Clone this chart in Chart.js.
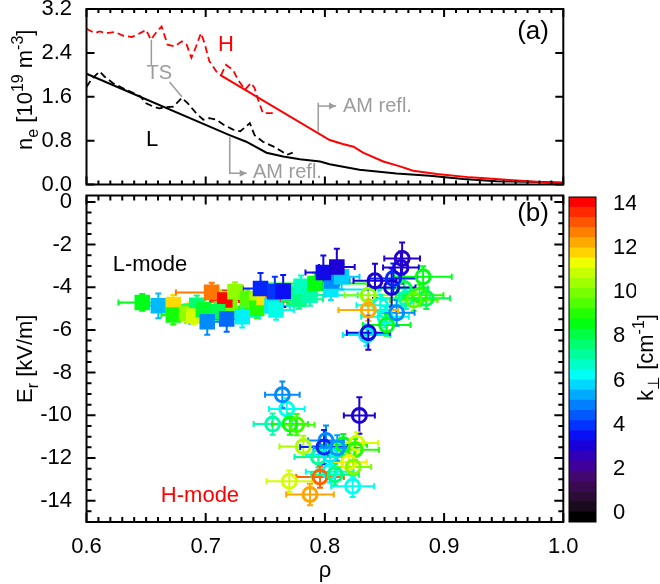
<!DOCTYPE html>
<html>
<head>
<meta charset="utf-8">
<script src="https://cdn.jsdelivr.net/npm/chart.js@4.4.0/dist/chart.umd.min.js"></script>
<style>
  html, body { margin: 0; padding: 0; background: #fff; }
  #wrap { position: relative; width: 660px; height: 584px; overflow: hidden; }
  canvas { position: absolute; left: 0; }
</style>
</head>
<body>
<div id="wrap">
  <canvas id="cA" width="660" height="250" style="top:-30px"></canvas>
  <canvas id="cB" width="660" height="584" style="top:0"></canvas>
  <canvas id="cC" width="660" height="584" style="top:0"></canvas>
</div>
<script>
// ---------- Panel (a): density profiles ----------
const tsH_rho = [0.600,0.607,0.611,0.617,0.624,0.631,0.638,0.645,0.650,0.654,0.659,0.663,0.668,0.674,0.680,0.684,0.688,0.692,0.696,0.699,0.703,0.709,0.713,0.717,0.723,0.727,0.733,0.738,0.741,0.744,0.748,0.757];
const tsH_ne  = [2.84,2.76,2.79,2.76,2.78,2.71,2.69,2.76,2.82,2.64,2.79,2.88,2.55,2.52,2.61,2.55,2.31,2.52,2.76,2.58,2.25,2.06,2.00,2.18,2.09,1.91,1.73,1.85,1.76,1.54,1.30,1.30];
const amH_rho = [0.712,0.804,0.815,0.824,0.832,0.849,0.863,0.874,0.894,0.922,0.955,0.983,1.000];
const amH_ne  = [2.00,0.81,0.74,0.69,0.58,0.42,0.33,0.25,0.19,0.13,0.08,0.04,0.03];
const tsL_rho = [0.600,0.604,0.608,0.611,0.615,0.622,0.633,0.645,0.650,0.656,0.661,0.667,0.673,0.680,0.685,0.692,0.698,0.703,0.709,0.715,0.723,0.729,0.734,0.737,0.741,0.748,0.757,0.764,0.768,0.773];
const tsL_ne  = [1.78,1.91,2.00,2.06,1.97,1.85,1.73,1.61,1.48,1.42,1.39,1.41,1.42,1.58,1.48,1.30,1.18,1.21,1.18,1.09,1.00,0.97,1.06,1.12,0.90,0.78,0.69,0.60,0.54,0.58];
const amL_rho = [0.600,0.720,0.734,0.751,0.765,0.779,0.796,0.804,0.821,0.829,0.860,0.888,0.916,0.944,0.972,1.000];
const amL_ne  = [2.02,0.90,0.78,0.58,0.51,0.46,0.42,0.37,0.30,0.27,0.20,0.16,0.10,0.06,0.05,0.03];
const neTicks = [0, 0.8, 1.6, 2.4, 3.2];

// ---------- Panel (b): radial electric field ----------
// filled squares
const sq_rho  = [0.6468,0.6603,0.6728,0.6728,0.6840,0.6925,0.6900,0.6980,0.7200,0.7050,0.7160,0.7100,0.7013,0.7176,0.7246,0.7350,0.7428,0.7428,0.7490,0.7567,0.7307,0.7556,0.7590,0.7700,0.7783,0.7800,0.7875,0.8050,0.7917,0.8057,0.8140,0.7460,0.7580,0.7650,0.7987,0.8100];
const sq_er   = [-4.71,-4.87,-4.81,-5.30,-5.23,-4.84,-5.35,-5.05,-5.00,-4.24,-4.60,-5.15,-5.62,-5.49,-4.21,-4.55,-4.60,-4.99,-4.48,-4.68,-5.38,-4.88,-5.07,-4.35,-4.56,-3.95,-4.37,-4.10,-3.82,-3.70,-3.51,-4.06,-4.21,-4.18,-3.31,-3.05];
const sq_drho = [0.020,0.012,0.012,0.010,0.012,0.015,0.010,0.012,0.012,0.030,0.012,0.012,0.015,0.012,0.012,0.015,0.012,0.015,0.012,0.012,0.015,0.015,0.015,0.030,0.020,0.020,0.040,0.040,0.045,0.015,0.015,0.015,0.015,0.012,0.015,0.015];
const sq_der  = [0.39,0.58,0.45,0.45,0.45,0.45,0.40,0.45,0.45,0.45,0.45,0.45,0.60,0.60,0.45,0.45,0.45,0.45,0.50,0.50,0.50,0.45,0.45,0.45,0.45,0.50,0.50,0.50,0.50,0.60,0.60,0.73,0.70,0.75,0.80,0.85];
const sq_k    = [8.5,5.5,11.7,8.8,10.2,7.6,11.0,8.3,9.8,12.8,14.0,8.0,5.0,4.6,10.2,9.5,10.6,9.0,11.6,13.3,6.1,6.0,6.4,7.9,7.4,6.8,7.0,6.0,8.6,5.0,5.7,3.8,4.0,3.5,3.3,3.0];
// open circles, L-mode
const cl_rho  = [0.8364,0.8465,0.8665,0.8680,0.8504,0.8518,0.8350,0.8850,0.8824,0.8794,0.8745,0.8602,0.8364,0.8364,0.8560,0.8574,0.8420,0.8638,0.8648];
const cl_er   = [-4.37,-4.84,-4.06,-4.52,-5.38,-5.77,-6.24,-4.52,-3.51,-4.37,-4.60,-5.20,-5.07,-6.13,-4.01,-3.59,-3.70,-3.07,-2.65];
const cl_drho = [0.020,0.020,0.020,0.020,0.020,0.020,0.020,0.020,0.024,0.020,0.020,0.015,0.025,0.018,0.020,0.020,0.018,0.015,0.015];
const cl_der  = [0.50,0.50,0.50,0.50,0.50,0.50,0.50,0.50,0.50,0.50,0.50,0.60,0.50,0.80,0.90,0.70,0.80,0.75,0.75];
const cl_k    = [10.2,6.5,8.0,7.0,6.5,8.5,6.0,8.0,8.5,9.0,9.6,5.0,12.2,3.2,3.0,3.8,3.0,3.0,2.8];
// open circles, H-mode
const ch_rho  = [0.7562,0.7680,0.7707,0.7763,0.7643,0.8289,0.7819,0.7945,0.8043,0.8154,0.8267,0.8253,0.8200,0.8238,0.8040,0.7959,0.8085,0.7701,0.7875,0.8233,0.8009,0.7993,0.8104];
const ch_er   = [-10.41,-9.70,-10.41,-10.44,-9.04,-10.01,-11.46,-11.95,-11.85,-11.38,-11.30,-11.61,-12.20,-12.42,-12.65,-12.89,-12.78,-13.09,-13.71,-13.33,-11.18,-11.49,-11.53];
const ch_drho = [0.016,0.015,0.015,0.015,0.0145,0.013,0.020,0.020,0.020,0.020,0.018,0.020,0.015,0.015,0.020,0.020,0.020,0.019,0.020,0.018,0.015,0.020,0.020];
const ch_der  = [0.50,0.50,0.50,0.50,0.62,0.86,0.50,0.50,0.50,0.50,0.50,0.50,0.50,0.50,0.50,0.50,0.50,0.50,0.50,0.50,0.70,0.80,0.60];
const ch_k    = [7.0,6.3,8.7,9.3,5.0,3.0,10.5,7.2,6.0,8.5,11.0,9.0,11.5,10.0,6.2,13.0,7.5,11.0,12.3,6.3,5.0,3.8,5.2];
const rhoTicks = [0.6, 0.7, 0.8, 0.9, 1.0];
const erTicks  = [-14, -12, -10, -8, -6, -4, -2, 0];

// ---------- colour bar ----------
const cbarColors = ['#000000','#1a0a1e','#2a0c34','#3a0a50','#420870','#40009a','#3000b8','#1a00d8',
                    '#0a10f4','#0033ff','#0058ff','#0080ff','#00aaff','#00d8ff','#00fff4','#00ffc8',
                    '#00ff9c','#00ff70','#00ff44','#00ff10','#22ff00','#50ff00','#78ff00','#a0ff00',
                    '#c8ff00','#f0ff00','#ffd400','#ffaa00','#ff8000','#ff5500','#ff2a00','#ff0000'];
const kLo = -0.4, kHi = 14.3;
const kTicks = [0, 2, 4, 6, 8, 10, 12, 14];

const FONT = "'Liberation Sans', Arial, 'DejaVu Sans', sans-serif";
Chart.defaults.font.family = FONT;
Chart.defaults.font.size = 22;
Chart.defaults.color = '#000';

function hexToRgb(h) { return [1, 3, 5].map(i => parseInt(h.slice(i, i + 2), 16)); }
function kColor(k) {
  const n = cbarColors.length, step = (kHi - kLo) / n;
  let f = Math.max(0, Math.min(n - 1, (k - kLo) / step - 0.5));
  const i = Math.floor(f), j = Math.min(n - 1, i + 1), t = f - i;
  const a = hexToRgb(cbarColors[i]), b = hexToRgb(cbarColors[j]);
  return 'rgb(' + a.map((v, m) => Math.round(v + (b[m] - v) * t)).join(',') + ')';
}
const zip = (xs, ys) => xs.map((x, i) => ({ x, y: ys[i] }));

function drawRich(ctx, segs, x, y, rot, color) {
  ctx.save();
  ctx.translate(x, y);
  ctx.rotate(rot || 0);
  ctx.fillStyle = color || '#000';
  ctx.textBaseline = 'alphabetic';
  ctx.textAlign = 'left';
  let w = 0;
  segs.forEach(s => { ctx.font = s.s + 'px ' + FONT; s.w = ctx.measureText(s.t).width; w += s.w; });
  let cx = -w / 2;
  segs.forEach(s => { ctx.font = s.s + 'px ' + FONT; ctx.fillText(s.t, cx, s.dy || 0); cx += s.w; });
  ctx.restore();
}

// IDL-style frame with inward ticks on all four sides
const boxTicks = {
  id: 'boxTicks',
  afterDatasetsDraw(chart, args, o) {
    if (!o || !o.on) return;
    const { ctx, chartArea: a } = chart;
    ctx.save();
    ctx.strokeStyle = '#000';
    ctx.lineWidth = o.lw || 2;
    const vals = (min, max, step) => { const r = []; for (let i = Math.ceil(min / step - 1e-6); i * step <= max + 1e-6; i++) r.push(i * step); return r; };
    ctx.beginPath();
    if (o.x) {
      const s = chart.scales.x;
      [[o.x.minor, o.minLen], [o.x.major, o.majLen]].forEach(([step, len]) => {
        if (!step) return;
        vals(s.min, s.max, step).forEach(v => {
          const p = s.getPixelForValue(v);
          ctx.moveTo(p, a.bottom); ctx.lineTo(p, a.bottom - len);
          ctx.moveTo(p, a.top); ctx.lineTo(p, a.top + len);
        });
      });
    }
    if (o.y) {
      const s = chart.scales.y;
      [[o.y.minor, o.minLen], [o.y.major, o.majLen]].forEach(([step, len]) => {
        if (!step) return;
        vals(s.min, s.max, step).forEach(v => {
          const p = s.getPixelForValue(v);
          ctx.moveTo(a.left, p); ctx.lineTo(a.left + len, p);
          ctx.moveTo(a.right, p); ctx.lineTo(a.right - len, p);
        });
      });
    }
    ctx.stroke();
    ctx.strokeRect(a.left, a.top, a.right - a.left, a.bottom - a.top);
    ctx.restore();
  }
};

// error bars with caps, drawn just before each dataset's markers
const errBars = {
  id: 'errBars',
  beforeDatasetDraw(chart, { index }) {
    const ds = chart.data.datasets[index];
    if (!ds.xErr) return;
    const ctx = chart.ctx, xs = chart.scales.x, ys = chart.scales.y, cap = 3;
    ctx.save();
    ctx.lineWidth = 2;
    ds.data.forEach((p, i) => {
      const x = xs.getPixelForValue(p.x), y = ys.getPixelForValue(p.y);
      const x0 = xs.getPixelForValue(p.x - ds.xErr[i]), x1 = xs.getPixelForValue(p.x + ds.xErr[i]);
      const y0 = ys.getPixelForValue(p.y - ds.yErr[i]), y1 = ys.getPixelForValue(p.y + ds.yErr[i]);
      ctx.strokeStyle = ds.errColors[i];
      ctx.beginPath();
      ctx.moveTo(x0, y); ctx.lineTo(x1, y);
      ctx.moveTo(x, y0); ctx.lineTo(x, y1);
      ctx.moveTo(x0, y - cap); ctx.lineTo(x0, y + cap);
      ctx.moveTo(x1, y - cap); ctx.lineTo(x1, y + cap);
      ctx.moveTo(x - cap, y0); ctx.lineTo(x + cap, y0);
      ctx.moveTo(x - cap, y1); ctx.lineTo(x + cap, y1);
      ctx.stroke();
    });
    ctx.restore();
  }
};

// in-plot labels, connector lines and axis titles
const annot = {
  id: 'annot',
  afterDatasetsDraw(chart, args, o) {
    if (!o || !o.on) return;
    const ctx = chart.ctx, xs = chart.scales.x, ys = chart.scales.y;
    ctx.save();
    (o.lines || []).forEach(l => {
      const pts = l.pts.map(p => [xs.getPixelForValue(p[0]), ys.getPixelForValue(p[1])]);
      ctx.strokeStyle = l.color; ctx.fillStyle = l.color; ctx.lineWidth = 1.5;
      ctx.beginPath();
      pts.forEach((p, i) => i ? ctx.lineTo(p[0], p[1]) : ctx.moveTo(p[0], p[1]));
      ctx.stroke();
      if (l.arrow) {
        const [ex, ey] = pts[pts.length - 1], [sx, sy] = pts[pts.length - 2];
        const ang = Math.atan2(ey - sy, ex - sx), L = 7, H = 3.5;
        ctx.beginPath();
        ctx.moveTo(ex, ey);
        ctx.lineTo(ex - L * Math.cos(ang) + H * Math.sin(ang), ey - L * Math.sin(ang) - H * Math.cos(ang));
        ctx.lineTo(ex - L * Math.cos(ang) - H * Math.sin(ang), ey - L * Math.sin(ang) + H * Math.cos(ang));
        ctx.closePath();
        ctx.fill();
      }
    });
    (o.items || []).forEach(it => {
      ctx.font = it.size + 'px ' + FONT;
      ctx.fillStyle = it.color;
      ctx.textAlign = it.align || 'center';
      ctx.textBaseline = 'middle';
      ctx.fillText(it.t, xs.getPixelForValue(it.x), ys.getPixelForValue(it.y));
    });
    (o.titles || []).forEach(tt => {
      const [x, y] = tt.pos(chart.chartArea);
      drawRich(ctx, tt.segs, x, y, tt.rot);
    });
    ctx.restore();
  }
};
Chart.register(boxTicks, errBars, annot);

const GRAY = '#9c9c9c';
const lineDs = (rho, ne, color, dash) => ({
  data: zip(rho, ne), showLine: true, borderColor: color, borderWidth: dash ? 1.8 : 2,
  borderDash: dash ? [7, 4] : [], pointRadius: 0, tension: 0, fill: false
});

// ---------- chart (a) ----------
new Chart(document.getElementById('cA'), {
  type: 'scatter',
  data: { datasets: [
    lineDs(tsH_rho, tsH_ne, '#ff0000', true),
    lineDs(amH_rho, amH_ne, '#ff0000', false),
    lineDs(tsL_rho, tsL_ne, '#000000', true),
    lineDs(amL_rho, amL_ne, '#000000', false)
  ]},
  options: {
    responsive: false, animation: false, events: [],
    layout: { padding: { left: 0, right: 96.7, top: 39, bottom: 35.5 } },
    scales: {
      x: { type: 'linear', min: 0.6, max: 1.0, display: false },
      y: {
        type: 'linear', min: 0, max: 3.2,
        afterBuildTicks: s => { s.ticks = neTicks.map(v => ({ value: v })); },
        afterFit: s => { s.width = 86.5; },
        ticks: { padding: 6.5, callback: v => v.toFixed(1) },
        grid: { display: false }, border: { display: false }
      }
    },
    plugins: {
      legend: { display: false }, tooltip: { enabled: false },
      boxTicks: { on: true, lw: 2, majLen: 8, minLen: 4, x: { major: 0.1, minor: 0.01 }, y: { major: 0.8 } },
      annot: {
        on: true,
        lines: [
          { color: GRAY, pts: [[0.6544, 2.64], [0.6544, 2.18]] },
          { color: GRAY, pts: [[0.6697, 1.87], [0.6800, 1.60]] },
          { color: GRAY, arrow: true, pts: [[0.7202, 0.87], [0.7202, 0.205], [0.7344, 0.205]] },
          { color: GRAY, pts: [[0.7944, 0.96], [0.7944, 1.49]] },
          { color: GRAY, arrow: true, pts: [[0.7944, 1.43], [0.8093, 1.43]] }
        ],
        items: [
          { t: 'H', x: 0.717, y: 2.55, color: '#ff0000', size: 22 },
          { t: 'L', x: 0.655, y: 0.81, color: '#000000', size: 22 },
          { t: 'TS', x: 0.661, y: 2.02, color: GRAY, size: 20 },
          { t: 'AM refl.', x: 0.7397, y: 0.21, color: GRAY, size: 20, align: 'left' },
          { t: 'AM refl.', x: 0.8152, y: 1.43, color: GRAY, size: 20, align: 'left' },
          { t: '(a)', x: 0.9746, y: 2.79, color: '#000000', size: 26 }
        ],
        titles: [{
          rot: -Math.PI / 2,
          pos: a => [a.left - 54.5, (a.top + a.bottom) / 2 - 7],
          segs: [{ t: 'n', s: 22 }, { t: 'e', s: 16, dy: 6 }, { t: ' [10', s: 22 }, { t: '19', s: 16, dy: -9 },
                 { t: ' m', s: 22 }, { t: '-3', s: 16, dy: -9 }, { t: ']', s: 22 }]
        }]
      }
    }
  }
});

// ---------- chart (b) ----------
const markerDs = (rho, er, drho, der, k, square) => {
  const cols = k.map(kColor);
  return {
    data: zip(rho, er), xErr: drho, yErr: der, errColors: cols,
    showLine: false,
    pointStyle: square ? 'rect' : 'circle',
    pointRadius: square ? 11 : 7,
    pointBackgroundColor: square ? cols : 'rgba(0,0,0,0)',
    pointBorderColor: cols,
    pointBorderWidth: square ? 0 : 3
  };
};
new Chart(document.getElementById('cB'), {
  type: 'scatter',
  data: { datasets: [
    markerDs(cl_rho, cl_er, cl_drho, cl_der, cl_k, false),
    markerDs(ch_rho, ch_er, ch_drho, ch_der, ch_k, false),
    markerDs(sq_rho, sq_er, sq_drho, sq_der, sq_k, true)
  ]},
  options: {
    responsive: false, animation: false, events: [],
    layout: { padding: { left: 0, right: 96.7, top: 195.5, bottom: 22 } },
    scales: {
      x: {
        type: 'linear', min: 0.6, max: 1.0,
        afterBuildTicks: s => { s.ticks = rhoTicks.map(v => ({ value: v })); },
        afterFit: s => { s.height = 40; },
        ticks: { padding: 4, maxRotation: 0, autoSkip: false, callback: v => v.toFixed(1) },
        grid: { display: false }, border: { display: false }
      },
      y: {
        type: 'linear', min: -15, max: 0.3,
        afterBuildTicks: s => { s.ticks = erTicks.map(v => ({ value: v })); },
        afterFit: s => { s.width = 86.5; },
        ticks: { padding: 6.5 },
        grid: { display: false }, border: { display: false }
      }
    },
    plugins: {
      legend: { display: false }, tooltip: { enabled: false },
      boxTicks: { on: true, lw: 2, majLen: 9, minLen: 5, x: { major: 0.1, minor: 0.01 }, y: { major: 2, minor: 0.5 } },
      annot: {
        on: true,
        items: [
          { t: 'L-mode', x: 0.6533, y: -2.95, color: '#000000', size: 22 },
          { t: 'H-mode', x: 0.6952, y: -13.8, color: '#ff0000', size: 22 },
          { t: '(b)', x: 0.9746, y: -0.58, color: '#000000', size: 26 }
        ],
        titles: [
          { rot: -Math.PI / 2, pos: a => [a.left - 54.5, (a.top + a.bottom) / 2],
            segs: [{ t: 'E', s: 22 }, { t: 'r', s: 16, dy: 6 }, { t: ' [kV/m]', s: 22 }] },
          { rot: 0, pos: a => [(a.left + a.right) / 2, 577], segs: [{ t: 'ρ', s: 22 }] }
        ]
      }
    }
  }
});

// ---------- colour bar ----------
const bandStep = (kHi - kLo) / cbarColors.length;
new Chart(document.getElementById('cC'), {
  type: 'bar',
  data: {
    labels: [''],
    datasets: cbarColors.map((c, i) => ({
      data: [[kLo + i * bandStep, kLo + (i + 1) * bandStep]],
      backgroundColor: c, borderWidth: 0, grouped: false,
      barPercentage: 1, categoryPercentage: 1
    }))
  },
  options: {
    responsive: false, animation: false, events: [],
    layout: { padding: { left: 569, right: 24, top: 197, bottom: 62 } },
    scales: {
      x: { display: false },
      y: {
        position: 'right', min: kLo, max: kHi,
        afterBuildTicks: s => { s.ticks = kTicks.map(v => ({ value: v })); },
        afterFit: s => { s.width = 40; },
        ticks: { padding: 9 },
        grid: { display: false }, border: { display: false }
      }
    },
    plugins: {
      legend: { display: false }, tooltip: { enabled: false },
      boxTicks: { on: true, lw: 1 },
      annot: {
        on: true,
        titles: [{
          rot: -Math.PI / 2, pos: a => [653, (a.top + a.bottom) / 2 - 2],
          segs: [{ t: 'k', s: 22 }, { t: '⊥', s: 16, dy: 6 }, { t: ' [cm', s: 22 }, { t: '-1', s: 16, dy: -9 }, { t: ']', s: 22 }]
        }]
      }
    }
  }
});
</script>
</body>
</html>
